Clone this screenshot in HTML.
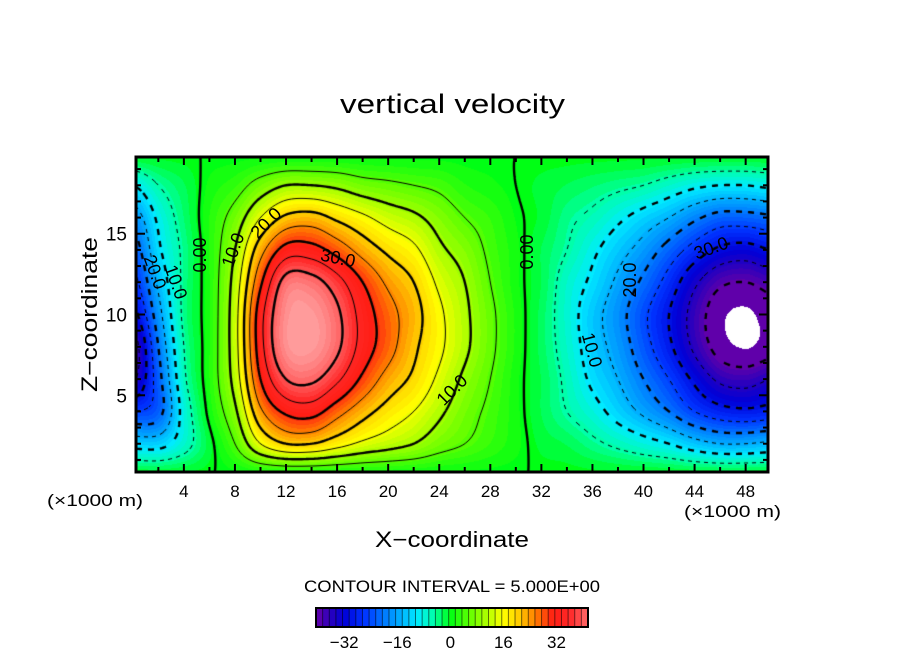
<!DOCTYPE html>
<html><head><meta charset="utf-8">
<style>
html,body{margin:0;padding:0;background:#fff;}
#wrap{position:relative;width:904px;height:654px;overflow:hidden;font-family:"Liberation Sans",sans-serif;}
canvas{position:absolute;left:136px;top:157px;}
svg{position:absolute;left:0;top:0;}
</style></head>
<body>
<div id="wrap">
<canvas id="cv" width="632" height="315"></canvas>
<svg id="sv" width="904" height="654">
  <text x="340" y="113" font-size="27" textLength="225" lengthAdjust="spacingAndGlyphs">vertical velocity</text>
  <text transform="translate(97,392) rotate(-90)" font-size="22" textLength="155" lengthAdjust="spacingAndGlyphs">Z−coordinate</text>
  <text x="375" y="547" font-size="22" textLength="154" lengthAdjust="spacingAndGlyphs">X−coordinate</text>
  <text x="47" y="506" font-size="17" textLength="96" lengthAdjust="spacingAndGlyphs">(×1000 m)</text>
  <text x="684" y="517" font-size="17" textLength="97" lengthAdjust="spacingAndGlyphs">(×1000 m)</text>
  <text x="304" y="592" font-size="17" textLength="296" lengthAdjust="spacingAndGlyphs">CONTOUR INTERVAL = 5.000E+00</text>
  <g id="axes"></g>
  <g id="labels" font-size="18" text-anchor="middle"></g>
  <g id="cbar"></g>
</svg>
</div>
<script>
// ---- data: columns at x = 0,2,...,50 km ; each column lists w at z = 0,2,...,20 km ----
const xCoords = [0,2,4,6,8,10,12,14,16,18,20,22,24,26,28,30,32,34,36,38,40,42,44,46,48,50];
const zCoords = [0,2,4,6,8,10,12,14,16,18,20];
const wColumns = [
 [0,-12,-25,-36,-38,-32,-27,-23,-18,-10,0],
 [0,-12,-22,-22,-20,-17,-14,-11,-9,-5,0],
 [0,-7,-8,-6,-5,-4,-4,-4,-3,-2,0],
 [0,-1,1,2,2,2,2,2,2,1,0],
 [0,5,9,12,13,13,12,10,7,3,0],
 [0,15,24,30,33,33,29,23,15,7,0],
 [0,20,31,40,45,45,42,32,21,10,0],
 [0,20,32,41,46,46,42,32,22,10,0],
 [0,17,27,36,41,41,37,28,19,9,0],
 [0,14,22,29,33,33,30,23,16,7,0],
 [0,12,18,23,27,27,24,19,13,6,0],
 [0,10,15,19,21,22,20,16,11,5,0],
 [0,7,11,14,16,16,14,11,8,4,0],
 [0,5,7,9,11,11,10,8,5,2,0],
 [0,3,4,5,6,6,5,4,3,1,0],
 [0,1,1,1,1.5,1.5,1,1,0.5,0,0],
 [0,-1,-2,-2,-2.5,-2.5,-2,-2,-1,-1,0],
 [0,-2,-5,-6,-7,-7.5,-7,-5,-4,-2,0],
 [0,-4,-8,-11,-12.5,-13,-11,-9,-6,-3,0],
 [0,-6,-12,-15,-17,-18,-16,-13,-9,-4,0],
 [0,-8,-16,-20,-23,-24,-21,-17,-12,-5,0],
 [0,-10,-20,-25,-29,-30,-27,-22,-15,-7,0],
 [0,-13,-25,-31,-36,-37,-34,-27,-19,-9,0],
 [0,-15,-28,-36,-42,-43,-39,-31,-22,-10,0],
 [0,-15,-29,-37,-44,-44.5,-40,-32,-22,-10,0],
 [0,-14,-28,-35,-42,-42,-38,-30,-21,-9,0]
];
const xTicks = [4,8,12,16,20,24,28,32,36,40,44,48];
const zTicks = [5,10,15];
const cbarTicks = [-32,-16,0,16,32];
const contourLevels = [-40,-35,-30,-25,-20,-15,-10,-5,0,5,10,15,20,25,30,35,40];

// ---- axes ----
const PL=136,PT=157,PW=632,PH=315, X0=0.25,X1=49.75,Z0=0.25,Z1=19.75;
const sx = x => PL + (x-X0)/(X1-X0)*PW;
const sz = z => PT + PH - (z-Z0)/(Z1-Z0)*PH;
const CB_L=316,CB_R=588,CB_MIN=-40.5,CB_MAX=41.5;
const cx = v => CB_L + (v-CB_MIN)/(CB_MAX-CB_MIN)*(CB_R-CB_L);

function cr(p0,p1,p2,p3,t){return 0.5*((2*p1)+(-p0+p2)*t+(2*p0-5*p1+4*p2-p3)*t*t+(-p0+3*p1-3*p2+p3)*t*t*t);}
function g(i,j){i=Math.max(0,Math.min(xCoords.length-1,i));j=Math.max(0,Math.min(zCoords.length-1,j));return wColumns[i][j];}
function field(x,z){
  const fx=(x-xCoords[0])/(xCoords[1]-xCoords[0]), fz=(z-zCoords[0])/(zCoords[1]-zCoords[0]);
  const i=Math.floor(fx), j=Math.floor(fz), tx=fx-i, tz=fz-j;
  const c=[];
  for(let k=-1;k<=2;k++) c.push(cr(g(i-1,j+k),g(i,j+k),g(i+1,j+k),g(i+2,j+k),tx));
  return cr(c[0],c[1],c[2],c[3],tz);
}
const stops=[[-40,96,0,170],[-36,40,0,190],[-32,0,0,215],[-26,0,50,255],[-20,0,120,255],[-15,0,175,255],[-10,0,235,255],[-5,0,255,170],[0,0,255,20],[6,100,255,0],[12,190,255,0],[16,255,255,0],[21,255,200,0],[26,255,120,0],[31,255,30,20],[36,255,40,40],[40,255,90,90],[46,255,155,155]];
function color(v){
  if(v<=stops[0][0]) return stops[0].slice(1);
  for(let k=1;k<stops.length;k++){ if(v<=stops[k][0]){const a=stops[k-1],b=stops[k],t=(v-a[0])/(b[0]-a[0]);return [a[1]+t*(b[1]-a[1]),a[2]+t*(b[2]-a[2]),a[3]+t*(b[3]-a[3])];}}
  return stops[stops.length-1].slice(1);
}
// ---- fill ----
const cv=document.getElementById('cv'),ctx=cv.getContext('2d');
const img=ctx.createImageData(PW,PH);
const F=[];
for(let py=0;py<=PH;py++){F.push([]);for(let px=0;px<=PW;px++){
  const x=X0+px/PW*(X1-X0), z=Z1-py/PH*(Z1-Z0); F[py].push(field(x,z));}}
for(let py=0;py<PH;py++)for(let px=0;px<PW;px++){
  const v=F[py][px]; let c;
  if(v< -43.8) c=[255,255,255]; else c=color(Math.round(v/1.25)*1.25);
  const o=(py*PW+px)*4; img.data[o]=c[0];img.data[o+1]=c[1];img.data[o+2]=c[2];img.data[o+3]=255;}
ctx.putImageData(img,0,0);
// ---- contours (marching squares) ----
function interp(a,b,l){return (l-a)/(b-a);}
const S=2;
contourLevels.forEach(l=>{
  const thick=(l%10===0);
  ctx.lineWidth=thick?2.4:1; ctx.strokeStyle='#000';
  ctx.beginPath();
  for(let py=0;py+S<=PH;py+=S)for(let px=0;px+S<=PW;px+=S){
    const a=F[py][px],b=F[py][px+S],c=F[py+S][px+S],d=F[py+S][px];
    const pts=[];
    if((a<l)!==(b<l)) pts.push([px+S*interp(a,b,l),py]);
    if((b<l)!==(c<l)) pts.push([px+S,py+S*interp(b,c,l)]);
    if((d<l)!==(c<l)) pts.push([px+S*interp(d,c,l),py+S]);
    if((a<l)!==(d<l)) pts.push([px,py+S*interp(a,d,l)]);
    for(let k=0;k+1<pts.length;k+=2){
      const mx=(pts[k][0]+pts[k+1][0])/2,my=(pts[k][1]+pts[k+1][1])/2;
      if(l<0){const dl=thick?6:4;
        const ddx=Math.abs(pts[k+1][0]-pts[k][0]),ddy=Math.abs(pts[k+1][1]-pts[k][1]);
        const s=(ddy>ddx)?my:mx;
        if(Math.floor(s/dl)%2!==0) continue;}
      ctx.moveTo(pts[k][0],pts[k][1]);ctx.lineTo(pts[k+1][0],pts[k+1][1]);
    }
  }
  ctx.stroke();
});
// ---- axes svg ----
const NS='http://www.w3.org/2000/svg';
function mk(tag,attrs,parent){const e=document.createElementNS(NS,tag);for(const k in attrs)e.setAttribute(k,attrs[k]);parent.appendChild(e);return e;}
const ax=document.getElementById('axes');
const frame=mk('rect',{x:PL,y:PT,width:PW,height:PH,fill:'none',stroke:'#000','stroke-width':3},ax);


for(let x=2;x<50;x+=2){const L=(x%4===0)?8:5;
  mk('line',{x1:sx(x),x2:sx(x),y1:PT,y2:PT+L,stroke:'#000','stroke-width':2},ax);
  mk('line',{x1:sx(x),x2:sx(x),y1:PT+PH,y2:PT+PH-L,stroke:'#000','stroke-width':2},ax);}
for(let z=1;z<20;z++){const L=(z%5===0)?9:5;
  mk('line',{x1:PL,x2:PL+L,y1:sz(z),y2:sz(z),stroke:'#000','stroke-width':2},ax);
  mk('line',{x1:PL+PW,x2:PL+PW-L,y1:sz(z),y2:sz(z),stroke:'#000','stroke-width':2},ax);}
xTicks.forEach(x=>{const t=mk('text',{x:sx(x),y:497,'font-size':17,'text-anchor':'middle'},ax);t.textContent=x;
  
  });
zTicks.forEach(z=>{const t=mk('text',{x:127,y:sz(z)+7,'font-size':19,'text-anchor':'end'},ax);t.textContent=z;
  
  });
// ---- contour labels ----
const lab=document.getElementById('labels');
[["0.00",200,255,-90],["0.00",527,252,-90],["10.0",233,250,-70],["20.0",266,223,-45],["30.0",338,258,12],
 ["10.0",452,390,-45],["20.0",155,272,70],["10.0",176,282,70],["20.0",630,280,-90],["10.0",592,350,75],["30.0",711,248,-20]]
.forEach(a=>{const t=mk('text',{transform:`translate(${a[1]},${a[2]}) rotate(${a[3]})`,y:6},lab);t.textContent=a[0];
  
  });
// ---- colorbar ----
const cb=document.getElementById('cbar');
for(let v=CB_MIN;v<CB_MAX;v+=2){const c=color(v+1).map(Math.round);
  mk('rect',{x:cx(v),y:609,width:cx(v+2)-cx(v)+0.5,height:17,fill:`rgb(${c[0]},${c[1]},${c[2]})`},cb);
  mk('line',{x1:cx(v),x2:cx(v),y1:609,y2:626,stroke:'#000','stroke-width':1,opacity:0.55},cb);}
const cbf=mk('rect',{x:CB_L,y:608,width:CB_R-CB_L,height:19,fill:'none',stroke:'#000','stroke-width':2},cb);


cbarTicks.forEach(v=>{const t=mk('text',{x:cx(v),y:648,'font-size':17,'text-anchor':'middle'},cb);t.textContent=(v<0?'−'+(-v):v);
  
  });
</script>
</body></html>
